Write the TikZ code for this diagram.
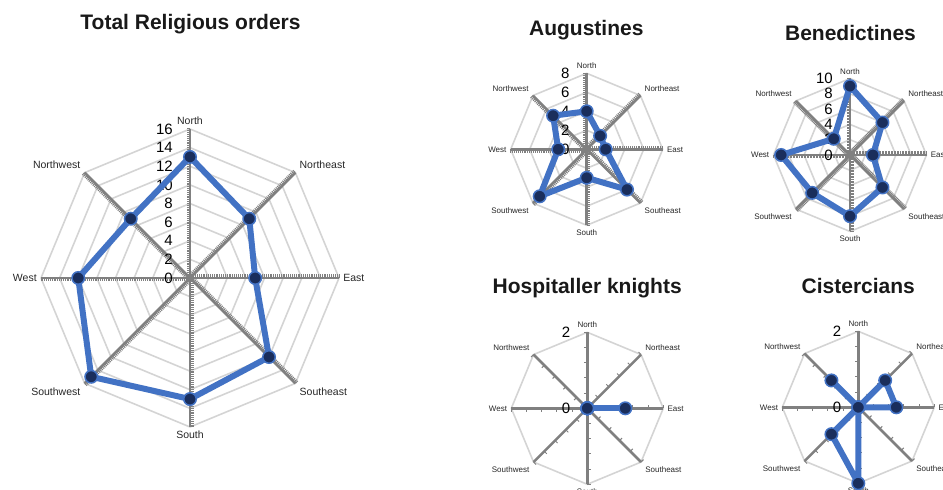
\documentclass[tikz,border=0pt]{standalone}
\usepackage{fontspec}
\setmainfont{Liberation Sans}
\definecolor{ringgray}{RGB}{212,212,212}
\definecolor{axisgray}{RGB}{128,128,128}
\definecolor{lineblue}{RGB}{66,114,196}
\definecolor{dotnavy}{RGB}{26,46,92}

\newcommand{\radarframe}[6]{%
  \foreach \r in {#3}
    \draw[gridring] (0:\r)--(45:\r)--(90:\r)--(135:\r)--(180:\r)--(225:\r)--(270:\r)--(315:\r)--cycle;
  \foreach \a/\lab/\anc in {90/North/south,45/Northeast/south west,0/East/west,315/Southeast/north west,
      270/South/north,225/Southwest/north east,180/West/east,135/Northwest/south east} {
    \draw[axisline] (0,0)--(\a:#2) node[dirlabel=#6,anchor=\anc] (#1\lab) {\lab};
    \foreach \t in {1,...,#4}
      \draw[tickmark,rotate=\a] (\t*#5,0)--++(0,3.5pt);
  }
  \foreach \v in {0,#3}
    \node[numlabel] (#1n\v) at ([xshift=-17pt]0,\v) {\v};
}
\newcommand{\radardata}[2]{%
  \foreach \v [count=\i from 0] in {#2}
    \coordinate (#1p\i) at (\i*45:\v);
  \draw[dataline] (#1p0)--(#1p1)--(#1p2)--(#1p3)--(#1p4)--(#1p5)--(#1p6)--(#1p7)--cycle;
  \foreach \i in {0,...,7}
    \node[datadot] (#1d\i) at (#1p\i) {};
}

\begin{document}
\begin{tikzpicture}[x=1pt,y=1pt,
  gridring/.style={ringgray,line width=1.6pt,line join=round},
  axisline/.style={axisgray,line width=2.6pt},
  tickmark/.style={axisgray,line width=1pt},
  dirlabel/.style={font=\fontsize{#1}{#1}\selectfont,text=black!85,inner sep=.3em},
  numlabel/.style={font=\fontsize{15}{15}\selectfont,anchor=east,inner sep=0pt},
  dataline/.style={lineblue,line width=6pt,line join=round},
  datadot/.style={circle,inner sep=0pt,minimum size=12.5pt,fill=dotnavy,draw=lineblue,line width=1.5pt},
  charttitle/.style={font=\fontsize{21}{21}\selectfont\bfseries,text=black!90,anchor=base}]
  \useasboundingbox (0,0) rectangle (943,490);
  \clip (0,0) rectangle (943,490);

  \node[charttitle] (totTitle) at (190.5,460.7) {Total Religious orders};
  \node[charttitle] (augTitle) at (586.3,454) {Augustines};
  \node[charttitle] (benTitle) at (850.5,449.3) {Benedictines};
  \node[charttitle] (hosTitle) at (587.2,196) {Hospitaller knights};
  \node[charttitle] (cisTitle) at (858.3,196) {Cistercians};

  \begin{scope}[xshift=190pt,yshift=212pt,x=9.3125pt,y=9.3125pt]
    \radarframe{tot}{16}{2,4,...,16}{80}{0.2}{10.5}
    \radardata{tot}{7,9,13,9,12,15,13,12}
  \end{scope}
  \begin{scope}[xshift=586.7pt,yshift=340.7pt,x=9.5pt,y=9.5pt]
    \radarframe{aug}{8}{2,4,6,8}{40}{0.2}{8}
    \radardata{aug}{2,2,4,5,3,7,3,6}
  \end{scope}
  \begin{scope}[xshift=850pt,yshift=335pt,x=7.65pt,y=7.65pt]
    \radarframe{ben}{10}{2,4,...,10}{50}{0.2}{8}
    \radardata{ben}{3,6,9,3,9,7,8,6}
  \end{scope}
  \begin{scope}[xshift=587.3pt,yshift=81.7pt,x=38pt,y=38pt]
    \radarframe{hos}{2}{2}{5}{0.4}{8}
    \radardata{hos}{1,0,0,0,0,0,0,0}
  \end{scope}
  \begin{scope}[xshift=858.3pt,yshift=82.7pt,x=38pt,y=38pt]
    \radarframe{cis}{2}{2}{5}{0.4}{8}
    \radardata{cis}{1,1,0,1,0,1,2,0}
  \end{scope}
\end{tikzpicture}
\end{document}
